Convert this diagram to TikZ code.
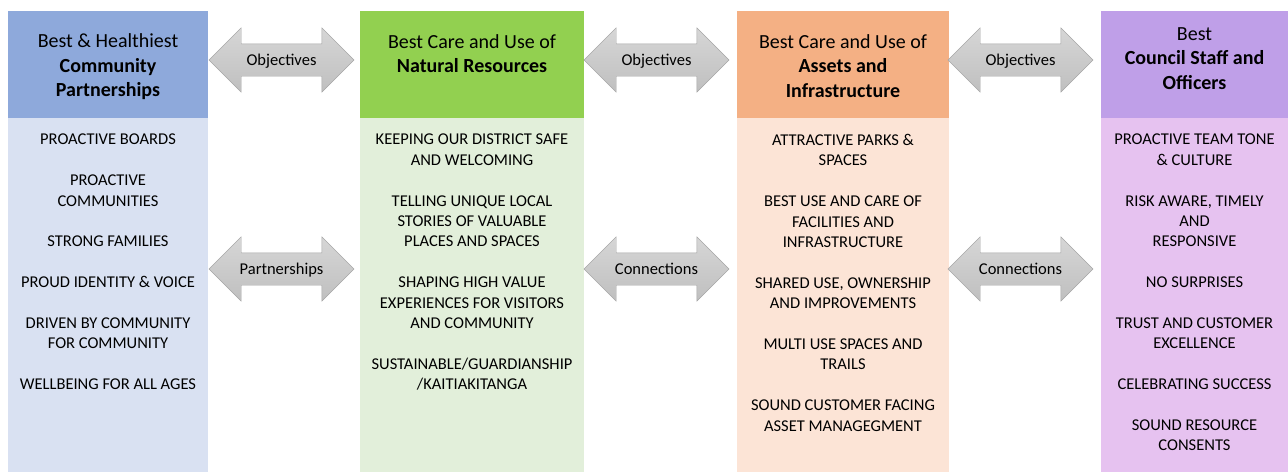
\documentclass[tikz,border=0pt]{standalone}
\usepackage{fontspec}
\setmainfont{Carlito}
\usepackage{tikz}
\usetikzlibrary{shapes.arrows,positioning}
\definecolor{partnerhead}{HTML}{8EA9DB}
\definecolor{partnerbody}{HTML}{D9E1F2}
\definecolor{naturehead}{HTML}{92D050}
\definecolor{naturebody}{HTML}{E2EFDA}
\definecolor{assethead}{HTML}{F4B084}
\definecolor{assetbody}{HTML}{FCE4D6}
\definecolor{staffhead}{RGB}{191,159,232}
\definecolor{staffbody}{RGB}{230,194,240}
\definecolor{arrowedge}{HTML}{A6A6A6}

\begin{document}
\begin{tikzpicture}[
        x=1pt, y=-1pt,
        headbox/.style={rectangle, inner sep=0pt, minimum height=107pt},
        bodybox/.style={rectangle, inner sep=0pt, minimum height=354pt},
        headtext/.style={align=center, inner sep=0pt, font=\fontsize{20}{24.6}\selectfont},
        itemtext/.style={align=center, inner sep=0pt, anchor=north, font=\fontsize{16.5}{20.4}\selectfont},
        linkarrow/.style={double arrow, draw=arrowedge, top color=black!16, bottom color=black!25,
            minimum height=145pt, minimum width=64pt, double arrow head extend=16pt,
            inner xsep=0pt, inner ysep=0pt, text height=21.3pt, text depth=10.7pt,
            font=\fontsize{16.5}{20}\selectfont}
    ]
        \useasboundingbox (0,0) rectangle (1288,472);

        % Column boxes
        \node[headbox, fill=partnerhead, minimum width=200pt] (head1) at (108,64.5) {};
        \node[bodybox, fill=partnerbody, minimum width=200pt] (body1) at (108,295) {};
        \node[headbox, fill=naturehead, minimum width=224pt] (head2) at (472,64.5) {};
        \node[bodybox, fill=naturebody, minimum width=224pt] (body2) at (472,295) {};
        \node[headbox, fill=assethead, minimum width=212pt] (head3) at (843,64.5) {};
        \node[bodybox, fill=assetbody, minimum width=212pt] (body3) at (843,295) {};
        \node[headbox, fill=staffhead, minimum width=187pt] (head4) at (1194.5,64.5) {};
        \node[bodybox, fill=staffbody, minimum width=187pt] (body4) at (1194.5,295) {};

        % Headings
        \node[headtext] (title1) at (108,67) {Best \& Healthiest\\\textbf{Community}\\\textbf{Partnerships}};
        \node[headtext] (title2) at (472,53.5) {Best Care and Use of\\\textbf{Natural Resources}};
        \node[headtext] (title3) at (843,66) {Best Care and Use of\\\textbf{Assets and}\\\textbf{Infrastructure}};
        \node[headtext] (title4) at (1194.5,58.5) {Best\\\textbf{Council Staff and}\\\textbf{Officers}};

        % Items
        \node[itemtext] (items1) at (108,134) {PROACTIVE BOARDS\\[20.4pt]
            PROACTIVE\\COMMUNITIES\\[20.4pt]
            STRONG FAMILIES\\[20.4pt]
            PROUD IDENTITY \& VOICE\\[20.4pt]
            DRIVEN BY COMMUNITY\\FOR COMMUNITY\\[20.4pt]
            WELLBEING FOR ALL AGES};
        \node[itemtext] (items2) at (472,134) {KEEPING OUR DISTRICT SAFE\\AND WELCOMING\\[20.4pt]
            TELLING UNIQUE LOCAL\\STORIES OF VALUABLE\\PLACES AND SPACES\\[20.4pt]
            SHAPING HIGH VALUE\\EXPERIENCES FOR VISITORS\\AND COMMUNITY\\[20.4pt]
            SUSTAINABLE/GUARDIANSHIP\\/KAITIAKITANGA};
        \node[itemtext] (items3) at (843,134) {ATTRACTIVE PARKS \&\\SPACES\\[20.4pt]
            BEST USE AND CARE OF\\FACILITIES AND\\INFRASTRUCTURE\\[20.4pt]
            SHARED USE, OWNERSHIP\\AND IMPROVEMENTS\\[20.4pt]
            MULTI USE SPACES AND\\TRAILS\\[20.4pt]
            SOUND CUSTOMER FACING\\ASSET MANAGEGMENT};
        \node[itemtext] (items4) at (1194.5,134) {PROACTIVE TEAM TONE\\\& CULTURE\\[20.4pt]
            RISK AWARE, TIMELY\\AND\\RESPONSIVE\\[20.4pt]
            NO SURPRISES\\[20.4pt]
            TRUST AND CUSTOMER\\EXCELLENCE\\[20.4pt]
            CELEBRATING SUCCESS\\[20.4pt]
            SOUND RESOURCE\\CONSENTS};

        % Two-way links between columns
        \node[linkarrow] (obj1) at (281.5,60) {Objectives};
        \node[linkarrow] (obj2) at (656.5,60) {Objectives};
        \node[linkarrow] (obj3) at (1020.5,60) {Objectives};
        \node[linkarrow] (part1) at (281.5,269) {Partnerships};
        \node[linkarrow] (conn2) at (656.5,269) {Connections};
        \node[linkarrow] (conn3) at (1020.5,269) {Connections};
    \end{tikzpicture}
\end{document}
